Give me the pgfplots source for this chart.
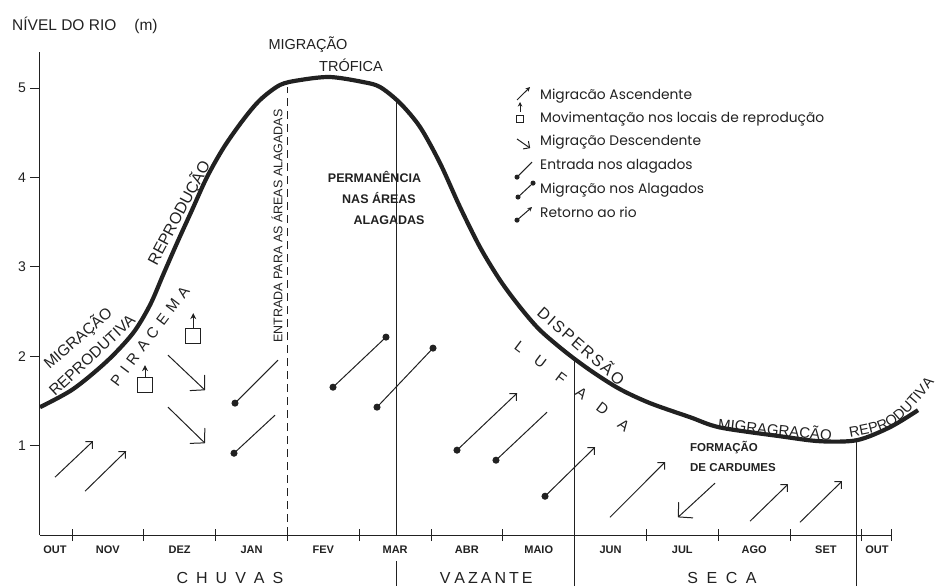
\documentclass[border=0pt]{standalone}
\usepackage{fontspec}
\setmainfont{Liberation Sans}
\newfontfamily\legfont{Poppins}
\usepackage{pgfplots}
\pgfplotsset{compat=1.18}
\usetikzlibrary{arrows.meta,decorations.text}
\definecolor{ink}{gray}{0.13}
\newcommand\fs[1]{\fontsize{#1}{#1}\selectfont}

\begin{document}
\begin{tikzpicture}[
  lab/.style={inner sep=0pt, text=ink},
  leg/.style={inner sep=0pt, text=ink, anchor=base west, font=\legfont\fs{13.8}},
  mes/.style={inner sep=0pt, text=ink, font=\bfseries\fs{11}},
  ylab/.style={inner sep=0pt, text=ink, anchor=east, xshift=-14pt, font=\fs{14}},
  asc/.style={ink, line width=1pt, -{Straight Barb[length=5pt,width=10pt]}},
  desc/.style={ink, line width=1pt, -{Straight Barb[length=10pt,width=21pt,round]}},
  dot/.style={mark=*, mark size=3pt, mark options={fill=ink, draw=ink}},
]
\begin{axis}[
  scale only axis, width=901pt, height=483pt,
  xmin=0.554, xmax=13.103, ymin=0, ymax=5.4,
  clip=false, hide x axis, axis y line=left,
  y axis line style={-, line width=1pt, ink},
  ytick={1,2,3,4,5}, yticklabels={}, tick align=outside, major tick length=10pt,
  ytick style={line width=1pt, ink},
]
% eixo x e marcas dos meses
\addplot[ink, line width=1pt] coordinates {(0.554,0) (12.42,0)};
\addplot[ink, line width=1pt, unbounded coords=jump] coordinates {
 (1,-0.065) (1,0.065) (1,nan) (2,-0.065) (2,0.065) (2,nan)
 (3,-0.065) (3,0.065) (3,nan) (4,-0.065) (4,0.065) (4,nan)
 (5,-0.065) (5,0.065) (5,nan) (6,-0.065) (6,0.065) (6,nan)
 (7,-0.065) (7,0.065) (7,nan) (9,-0.065) (9,0.065) (9,nan)
 (10,-0.065) (10,0.065) (10,nan) (11,-0.065) (11,0.065) (11,nan)
 (12,-0.065) (12,0.065) (12,nan) (12.42,-0.065) (12.42,0.065)};

% rotulos do eixo y
\node[ylab] at (axis cs:0.554,1) {1};
\node[ylab] at (axis cs:0.554,2) {2};
\node[ylab] at (axis cs:0.554,3) {3};
\node[ylab] at (axis cs:0.554,4) {4};
\node[ylab] at (axis cs:0.554,5) {5};

% linhas verticais
\addplot[ink, line width=1pt, dash pattern=on 8pt off 5pt] coordinates {(4.0,0) (4.0,5.01)};
\addplot[ink, line width=0.9pt] coordinates {(5.52,0) (5.52,4.86)};
\addplot[ink, line width=0.9pt] coordinates {(5.52,-0.29) (5.52,-0.57)};
\addplot[ink, line width=0.9pt] coordinates {(8.0,-0.57) (8.0,1.96)};
\addplot[ink, line width=0.9pt] coordinates {(11.93,-0.57) (11.93,1.06)};

% nivel do rio
\addplot[ink, line width=4.2pt, smooth] coordinates {
 (0.554,1.432) (1.014,1.633) (1.487,1.946) (1.850,2.260) (2.086,2.573)
 (2.267,2.908) (2.462,3.266) (2.671,3.635) (2.880,4.004) (3.117,4.340)
 (3.382,4.642) (3.618,4.866) (3.897,5.034) (4.176,5.089) (4.593,5.123)
 (5.053,5.067) (5.290,5.011) (5.568,4.832) (5.847,4.564) (6.125,4.161)
 (6.404,3.669) (6.682,3.221) (6.961,2.852) (7.240,2.550) (7.518,2.293)
 (7.894,2.036) (8.256,1.823) (8.632,1.633) (9.050,1.477) (9.607,1.320)
 (10.025,1.205) (10.861,1.107) (11.418,1.051) (11.933,1.063) (12.393,1.208)
 (12.783,1.398)};

% migracao ascendente
\addplot[asc] coordinates {(0.763,0.649) (1.292,1.051)};
\addplot[asc] coordinates {(1.181,0.492) (1.752,0.940)};
\addplot[asc] coordinates {(8.493,0.201) (9.259,0.817)};
\addplot[asc] coordinates {(10.443,0.157) (10.972,0.570)};
\addplot[asc] coordinates {(11.139,0.145) (11.724,0.604)};
% migracao descendente
\addplot[desc] coordinates {(2.337,2.013) (2.852,1.622)};
\addplot[desc] coordinates {(2.337,1.432) (2.852,1.029)};
\addplot[desc] coordinates {(9.955,0.582) (9.440,0.201)};
% movimentacao nos locais de reproducao
\addplot[ink, line width=1pt, only marks, mark=square, mark size=7.5pt] coordinates {(2.017,1.678) (2.689,2.226)};
\addplot[ink, line width=1pt, -{Stealth[length=6pt,width=6pt]}] coordinates {(2.017,1.767) (2.017,1.902)};
\addplot[ink, line width=1pt, -{Stealth[length=6pt,width=6pt]}] coordinates {(2.689,2.310) (2.689,2.483)};
% entrada nos alagados
\addplot[ink, line width=1pt, dot, mark indices={1}] coordinates {(3.270,1.477) (3.869,1.957)};
\addplot[ink, line width=1pt, dot, mark indices={1}] coordinates {(3.256,0.917) (3.827,1.342)};
\addplot[ink, line width=1pt, dot, mark indices={1}] coordinates {(6.905,0.839) (7.616,1.376)};
% migracao nos alagados
\addplot[ink, line width=1pt, dot] coordinates {(4.635,1.655) (5.373,2.215)};
\addplot[ink, line width=1pt, dot] coordinates {(5.248,1.432) (6.028,2.092)};
% retorno ao rio
\addplot[asc, dot, mark indices={1}] coordinates {(6.362,0.951) (7.198,1.588)};
\addplot[asc, dot, mark indices={1}] coordinates {(7.588,0.436) (8.284,0.984)};

% simbolos da legenda
\addplot[ink, line width=1pt, -{Stealth[length=4.5pt,width=4.5pt]}] coordinates {(7.198,4.866) (7.379,5.011)};
\addplot[ink, line width=0.9pt, only marks, mark=square, mark size=3.3pt] coordinates {(7.240,4.653)};
\addplot[ink, line width=0.9pt, -{Stealth[length=4.5pt,width=4.5pt]}] coordinates {(7.240,4.732) (7.240,4.843)};
\addplot[ink, line width=1pt, -{Straight Barb[length=4.5pt,width=9pt,round]}] coordinates {(7.198,4.430) (7.379,4.329)};
\addplot[ink, line width=1pt, dot, mark size=2pt, mark indices={1}] coordinates {(7.198,4.004) (7.407,4.172)};
\addplot[ink, line width=1pt, dot, mark size=2pt] coordinates {(7.212,3.781) (7.421,3.937)};
\addplot[ink, line width=1pt, dot, mark size=2pt, mark indices={1}, -{Stealth[length=4.5pt,width=4.5pt]}] coordinates {(7.198,3.523) (7.407,3.669)};

% textos da legenda
\node[leg] at (axis cs:7.518,4.877) {Migracão Ascendente};
\node[leg] at (axis cs:7.518,4.620) {Movimentação nos locais de reprodução};
\node[leg] at (axis cs:7.518,4.355) {Migração Descendente};
\node[leg] at (axis cs:7.518,4.090) {Entrada nos alagados};
\node[leg] at (axis cs:7.518,3.825) {Migração nos Alagados};
\node[leg] at (axis cs:7.518,3.557) {Retorno ao rio};

% titulos e rotulos
\node[lab, anchor=west, font=\fs{15.5}] at (axis cs:0.164,5.705) {NÍVEL DO RIO\hspace{18pt}(m)};
\node[lab, font=\fs{14.5}] at (axis cs:4.287,5.481) {MIGRAÇÃO};
\node[lab, font=\fs{14.5}] at (axis cs:4.886,5.257) {TRÓFICA};
\node[lab, font=\fs{12.5}, rotate=90] at (axis cs:3.855,3.456) {ENTRADA PARA AS ÁREAS ALAGADAS};
\node[lab, font=\bfseries\fs{12.5}] at (axis cs:5.213,4.004) {PERMANÊNCIA};
\node[lab, font=\bfseries\fs{12.5}] at (axis cs:5.276,3.770) {NAS ÁREAS};
\node[lab, font=\bfseries\fs{12.5}] at (axis cs:5.415,3.523) {ALAGADAS};
\node[lab, font=\fs{15.5}, rotate=41] at (axis cs:1.084,2.204) {MIGRAÇÃO};
\node[lab, font=\fs{15.5}, rotate=43] at (axis cs:1.279,2.013) {REPRODUTIVA};
\node[lab, font=\fs{16}, rotate=62] at (axis cs:2.490,3.602) {REPRODUÇÃO};
\node[lab, font=\fs{15}, rotate=53] at (axis cs:2.086,2.226) {P\hspace{6pt}I\hspace{6pt}R\hspace{6pt}A\hspace{6pt}C\hspace{6pt}E\hspace{6pt}M\hspace{6pt}A};
\node[lab, font=\fs{16}, rotate=-41] at (axis cs:8.102,2.125) {D\hspace{2pt}I\hspace{2pt}S\hspace{2pt}P\hspace{2pt}E\hspace{2pt}R\hspace{2pt}S\hspace{2pt}Ã\hspace{2pt}O};
\node[lab, font=\fs{15}, rotate=-37] at (axis cs:7.964,1.667) {L\hspace{16pt}U\hspace{16pt}F\hspace{16pt}A\hspace{16pt}D\hspace{16pt}A};
\node[lab, font=\fs{15}, rotate=-6] at (axis cs:10.791,1.174) {MIGRAGRAÇÃO};
\path[decorate, decoration={text along path, text color=ink, text align=center,
      text={|\fs{14.5}|REPRODUTIVA}}]
  (axis cs:11.766,1.085) .. controls (axis cs:12.476,1.186) .. (axis cs:13.06,1.756);
\node[lab, anchor=west, font=\bfseries\fs{11.5}] at (axis cs:9.607,0.984) {FORMAÇÃO};
\node[lab, anchor=west, font=\bfseries\fs{11.5}] at (axis cs:9.607,0.761) {DE CARDUMES};

% meses
\node[mes] at (axis cs:0.763,-0.162) {OUT};
\node[mes] at (axis cs:1.5,-0.162) {NOV};
\node[mes] at (axis cs:2.5,-0.162) {DEZ};
\node[mes] at (axis cs:3.5,-0.162) {JAN};
\node[mes] at (axis cs:4.5,-0.162) {FEV};
\node[mes] at (axis cs:5.5,-0.162) {MAR};
\node[mes] at (axis cs:6.5,-0.162) {ABR};
\node[mes] at (axis cs:7.5,-0.162) {MAIO};
\node[mes] at (axis cs:8.5,-0.162) {JUN};
\node[mes] at (axis cs:9.5,-0.162) {JUL};
\node[mes] at (axis cs:10.5,-0.162) {AGO};
\node[mes] at (axis cs:11.5,-0.162) {SET};
\node[mes] at (axis cs:12.21,-0.162) {OUT};
\node[lab, font=\fs{16}] at (axis cs:3.200,-0.481) {C\hspace{8pt}H\hspace{8pt}U\hspace{8pt}V\hspace{8pt}A\hspace{8pt}S};
\node[lab, font=\fs{16}] at (axis cs:6.769,-0.481) {V\hspace{4pt}A\hspace{3pt}Z\hspace{3pt}A\hspace{3pt}N\hspace{3pt}T\hspace{3pt}E};
\node[lab, font=\fs{16}] at (axis cs:10.053,-0.481) {S\hspace{8.5pt}E\hspace{8.5pt}C\hspace{8.5pt}A};

\coordinate (bbsw) at (axis cs:-0.003,-0.570);
\coordinate (bbne) at (axis cs:13.103,5.984);
\end{axis}
\pgfresetboundingbox
\path[use as bounding box] (bbsw) rectangle (bbne);
\end{tikzpicture}
\end{document}
